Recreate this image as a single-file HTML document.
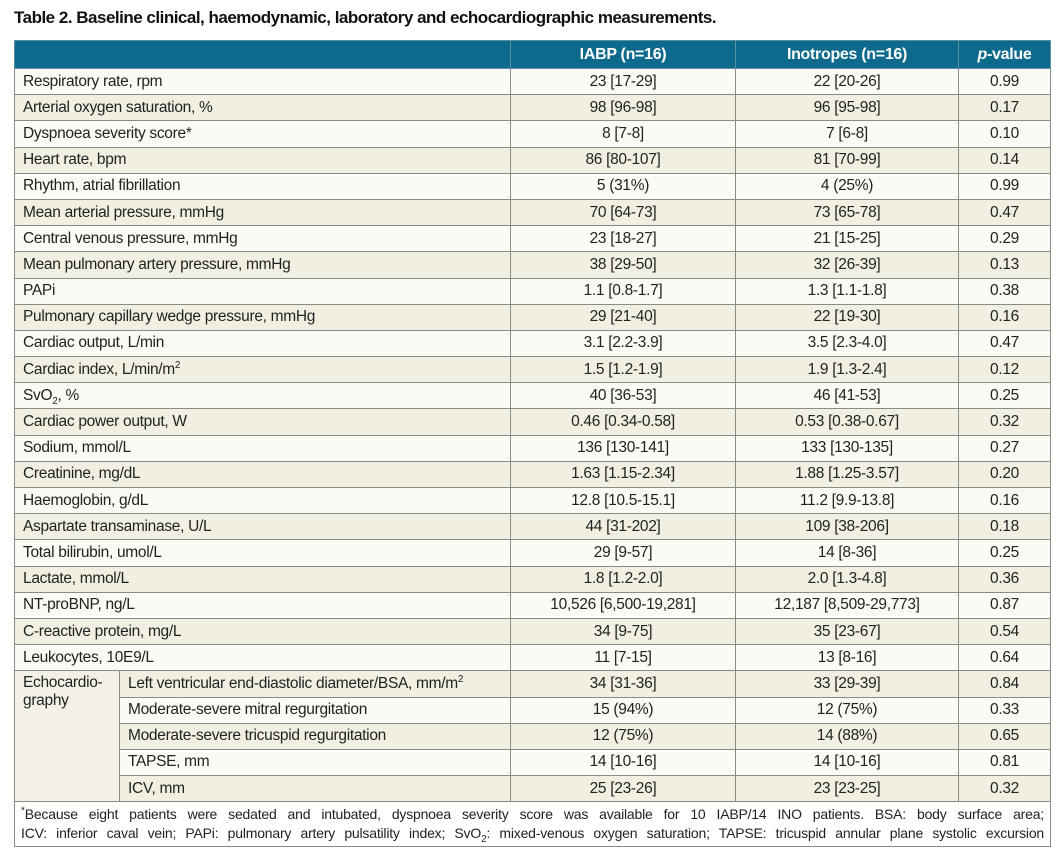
<!DOCTYPE html>
<html><head><meta charset="utf-8"><style>
body{margin:0;width:1062px;height:862px;background:#fff;font-family:"Liberation Sans Narrow","Liberation Sans",sans-serif;color:#222;position:relative;overflow:hidden}
h1{position:absolute;left:14px;top:8px;margin:0;font-size:17px;font-weight:bold;color:#111;letter-spacing:-0.5px}
table{position:absolute;left:14px;top:40px;border-collapse:collapse;width:1036px;table-layout:fixed}
td,th{border:1px solid #8a8a88;height:25.2px;padding:0 8px;font-size:15.5px;line-height:18px;white-space:nowrap;letter-spacing:-0.3px}
th{background:#0e6a8c;color:#fff;height:27px;font-weight:bold;border-color:#5d8fa3;font-size:16px}
td.c{text-align:center}
tr.a td{background:#fbfaf4}
tr.b td{background:#f1eee2}
td.echo{background:#f3f0e5 !important;vertical-align:top;padding-top:3px;white-space:normal}
td.foot{background:#fff;white-space:normal;font-size:14px;line-height:19px;height:40px;padding:2px 6px;letter-spacing:-0.2px}
td.foot div{text-align:justify;text-align-last:justify;white-space:nowrap}
sup,sub{font-size:10px;line-height:0}
</style></head><body>
<h1>Table 2. Baseline clinical, haemodynamic, laboratory and echocardiographic measurements.</h1>
<table>
<colgroup><col style="width:105px"><col style="width:391px"><col style="width:225px"><col style="width:223px"><col style="width:92px"></colgroup>
<tr><th colspan="2"></th><th>IABP (n=16)</th><th>Inotropes (n=16)</th><th><i>p</i>-value</th></tr>
<tr class="a"><td colspan="2">Respiratory rate, rpm</td><td class="c">23 [17-29]</td><td class="c">22 [20-26]</td><td class="c">0.99</td></tr>
<tr class="b"><td colspan="2">Arterial oxygen saturation, %</td><td class="c">98 [96-98]</td><td class="c">96 [95-98]</td><td class="c">0.17</td></tr>
<tr class="a"><td colspan="2">Dyspnoea severity score*</td><td class="c">8 [7-8]</td><td class="c">7 [6-8]</td><td class="c">0.10</td></tr>
<tr class="b"><td colspan="2">Heart rate, bpm</td><td class="c">86 [80-107]</td><td class="c">81 [70-99]</td><td class="c">0.14</td></tr>
<tr class="a"><td colspan="2">Rhythm, atrial fibrillation</td><td class="c">5 (31%)</td><td class="c">4 (25%)</td><td class="c">0.99</td></tr>
<tr class="b"><td colspan="2">Mean arterial pressure, mmHg</td><td class="c">70 [64-73]</td><td class="c">73 [65-78]</td><td class="c">0.47</td></tr>
<tr class="a"><td colspan="2">Central venous pressure, mmHg</td><td class="c">23 [18-27]</td><td class="c">21 [15-25]</td><td class="c">0.29</td></tr>
<tr class="b"><td colspan="2">Mean pulmonary artery pressure, mmHg</td><td class="c">38 [29-50]</td><td class="c">32 [26-39]</td><td class="c">0.13</td></tr>
<tr class="a"><td colspan="2">PAPi</td><td class="c">1.1 [0.8-1.7]</td><td class="c">1.3 [1.1-1.8]</td><td class="c">0.38</td></tr>
<tr class="b"><td colspan="2">Pulmonary capillary wedge pressure, mmHg</td><td class="c">29 [21-40]</td><td class="c">22 [19-30]</td><td class="c">0.16</td></tr>
<tr class="a"><td colspan="2">Cardiac output, L/min</td><td class="c">3.1 [2.2-3.9]</td><td class="c">3.5 [2.3-4.0]</td><td class="c">0.47</td></tr>
<tr class="b"><td colspan="2">Cardiac index, L/min/m<sup>2</sup></td><td class="c">1.5 [1.2-1.9]</td><td class="c">1.9 [1.3-2.4]</td><td class="c">0.12</td></tr>
<tr class="a"><td colspan="2">SvO<sub>2</sub>, %</td><td class="c">40 [36-53]</td><td class="c">46 [41-53]</td><td class="c">0.25</td></tr>
<tr class="b"><td colspan="2">Cardiac power output, W</td><td class="c">0.46 [0.34-0.58]</td><td class="c">0.53 [0.38-0.67]</td><td class="c">0.32</td></tr>
<tr class="a"><td colspan="2">Sodium, mmol/L</td><td class="c">136 [130-141]</td><td class="c">133 [130-135]</td><td class="c">0.27</td></tr>
<tr class="b"><td colspan="2">Creatinine, mg/dL</td><td class="c">1.63 [1.15-2.34]</td><td class="c">1.88 [1.25-3.57]</td><td class="c">0.20</td></tr>
<tr class="a"><td colspan="2">Haemoglobin, g/dL</td><td class="c">12.8 [10.5-15.1]</td><td class="c">11.2 [9.9-13.8]</td><td class="c">0.16</td></tr>
<tr class="b"><td colspan="2">Aspartate transaminase, U/L</td><td class="c">44 [31-202]</td><td class="c">109 [38-206]</td><td class="c">0.18</td></tr>
<tr class="a"><td colspan="2">Total bilirubin, umol/L</td><td class="c">29 [9-57]</td><td class="c">14 [8-36]</td><td class="c">0.25</td></tr>
<tr class="b"><td colspan="2">Lactate, mmol/L</td><td class="c">1.8 [1.2-2.0]</td><td class="c">2.0 [1.3-4.8]</td><td class="c">0.36</td></tr>
<tr class="a"><td colspan="2">NT-proBNP, ng/L</td><td class="c">10,526 [6,500-19,281]</td><td class="c">12,187 [8,509-29,773]</td><td class="c">0.87</td></tr>
<tr class="b"><td colspan="2">C-reactive protein, mg/L</td><td class="c">34 [9-75]</td><td class="c">35 [23-67]</td><td class="c">0.54</td></tr>
<tr class="a"><td colspan="2">Leukocytes, 10E9/L</td><td class="c">11 [7-15]</td><td class="c">13 [8-16]</td><td class="c">0.64</td></tr>
<tr class="b"><td class="echo" rowspan="5">Echocardio-<br>graphy</td><td>Left ventricular end-diastolic diameter/BSA, mm/m<sup>2</sup></td><td class="c">34 [31-36]</td><td class="c">33 [29-39]</td><td class="c">0.84</td></tr>
<tr class="a"><td>Moderate-severe mitral regurgitation</td><td class="c">15 (94%)</td><td class="c">12 (75%)</td><td class="c">0.33</td></tr>
<tr class="b"><td>Moderate-severe tricuspid regurgitation</td><td class="c">12 (75%)</td><td class="c">14 (88%)</td><td class="c">0.65</td></tr>
<tr class="a"><td>TAPSE, mm</td><td class="c">14 [10-16]</td><td class="c">14 [10-16]</td><td class="c">0.81</td></tr>
<tr class="b"><td>ICV, mm</td><td class="c">25 [23-26]</td><td class="c">23 [23-25]</td><td class="c">0.32</td></tr>
<tr><td class="foot" colspan="5"><div><sup>*</sup>Because eight patients were sedated and intubated, dyspnoea severity score was available for 10 IABP/14 INO patients. BSA: body surface area;</div><div>ICV: inferior caval vein; PAPi: pulmonary artery pulsatility index; SvO<sub>2</sub>: mixed-venous oxygen saturation; TAPSE: tricuspid annular plane systolic excursion</div></td></tr>
</table>
</body></html>
